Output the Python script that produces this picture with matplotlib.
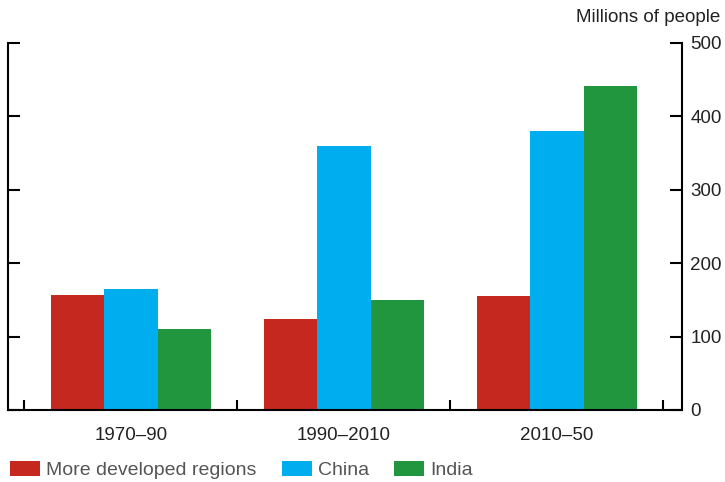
import matplotlib
matplotlib.use("Agg")
import matplotlib.pyplot as plt
import numpy as np
from matplotlib.patches import Patch

plt.rcParams['font.family'] = ['Liberation Sans', 'DejaVu Sans']

periods = ["1970–90", "1990–2010", "2010–50"]
series_names = ["More developed regions", "China", "India"]
developed = [157, 124, 155]
china = [165, 360, 380]
india = [110, 150, 441]
yticks = [0, 100, 200, 300, 400, 500]

colors = ["#C4281F", "#00AEEF", "#21963F"]

fig = plt.figure(figsize=(7.25, 4.82), dpi=100)
ax = fig.add_axes([0.011, 0.1494, 0.9297, 0.7614])

x = np.arange(len(periods))
w = 0.25
for i, (vals, c, name) in enumerate(zip([developed, china, india], colors, series_names)):
    ax.bar(x + (i - 1) * w, vals, width=w, color=c, label=name, linewidth=0)

ax.set_xlim(-0.577, 2.587)
ax.set_ylim(0, 500)
ax.spines['top'].set_visible(False)
for s in ['left', 'right', 'bottom']:
    ax.spines[s].set_linewidth(1.5)
    ax.spines[s].set_color('black')

ax.yaxis.tick_right()
ax.set_yticks(yticks)
ax.tick_params(axis='y', which='major', direction='in', length=8.5, width=1.5,
               left=True, right=True, labelleft=False, labelright=True,
               labelsize=13.5, pad=6, labelcolor='#222222')

ax.set_xticks(x)
ax.set_xticklabels(periods)
ax.set_xticks([-0.5, 0.5, 1.5, 2.5], minor=True)
ax.tick_params(axis='x', which='major', length=0, labelsize=13.5, pad=12, labelcolor='#222222')
ax.tick_params(axis='x', which='minor', direction='in', length=7, width=1.5)

fig.text(0.993, 0.963, "Millions of people", ha='right', va='center', fontsize=13.5, color='#222222')

handles = [Patch(facecolor=c, edgecolor='none') for c in colors]
leg = fig.legend(handles, series_names, loc='center left', bbox_to_anchor=(0.014, 0.025),
                 ncol=3, frameon=False, fontsize=14, handlelength=1.55, handleheight=0.8,
                 handletextpad=0.3, columnspacing=1.3, borderpad=0, borderaxespad=0)
for t in leg.get_texts():
    t.set_color('#555555')

fig.savefig("out.png", dpi=100)
